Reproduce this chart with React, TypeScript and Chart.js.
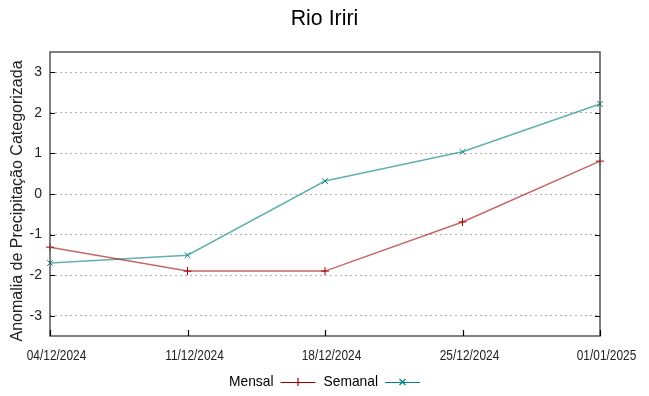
import React, { useEffect, useRef } from "react";
import { Chart, registerables } from "chart.js";

Chart.register(...registerables);

const categories = ["04/12/2024", "11/12/2024", "18/12/2024", "25/12/2024", "01/01/2025"];
const mensal = [-1.31, -1.9, -1.9, -0.69, 0.81];
const semanal = [-1.7, -1.51, 0.32, 1.04, 2.22];
const yTicks = [-3, -2, -1, 0, 1, 2, 3];
const titleText = "Rio Iriri";
const yTitleText = "Anomalia de Precipitação Categorizada";

const RED = "#a00000";
const RED_LINE = "rgba(160,0,0,0.6)";
const TEAL = "#008080";
const TEAL_LINE = "rgba(0,128,128,0.62)";
const SANS = "'Liberation Sans', Arial, sans-serif";

function narrowText(ctx: any, text: string, x: number, y: number, sx: number, align: string) {
  ctx.save();
  ctx.translate(x, y);
  ctx.scale(sx, 1);
  ctx.textAlign = align;
  ctx.fillText(text, 0, 0);
  ctx.restore();
}

const framePlugin = {
  id: "frameAndLegend",
  afterDraw(chart: any) {
    const ctx = chart.ctx;
    const { left, right, top, bottom } = chart.chartArea;
    ctx.save();
    // title
    ctx.fillStyle = "#000000";
    ctx.textBaseline = "middle";
    ctx.font = "22px " + SANS;
    narrowText(ctx, titleText, chart.width / 2, 19, 0.97, "center");
    // y title
    ctx.save();
    ctx.font = "16px " + SANS;
    ctx.fillStyle = "#222222";
    ctx.translate(18, 201);
    ctx.rotate(-Math.PI / 2);
    ctx.textAlign = "center";
    ctx.fillText(yTitleText, 0, 0);
    ctx.restore();
    // frame
    ctx.strokeStyle = "#555555";
    ctx.lineWidth = 1.5;
    ctx.strokeRect(left, top, right - left, bottom - top);
    // y ticks inward left/right
    ctx.strokeStyle = "#000000";
    ctx.lineWidth = 1.2;
    const ys = chart.scales.y;
    yTicks.forEach((v) => {
      const py = Math.round(ys.getPixelForValue(v)) + 0.5;
      ctx.beginPath();
      ctx.moveTo(left, py);
      ctx.lineTo(left + 5, py);
      ctx.moveTo(right, py);
      ctx.lineTo(right - 5, py);
      ctx.stroke();
    });
    // x ticks inward bottom + labels
    const xs = chart.scales.x;
    ctx.font = "14px " + SANS;
    ctx.fillStyle = "#222222";
    categories.forEach((lab, i) => {
      const px = Math.round(xs.getPixelForValue(i)) + 0.5;
      ctx.beginPath();
      ctx.moveTo(px, bottom);
      ctx.lineTo(px, bottom - 6);
      ctx.stroke();
      narrowText(ctx, lab, px + 6, 356, 0.85, "center");
    });
    // legend
    const ly = 382;
    ctx.font = "15px " + SANS;
    ctx.textBaseline = "middle";
    const items = [
      { label: "Mensal", color: RED, marker: "plus" },
      { label: "Semanal", color: TEAL, marker: "x" },
    ];
    const sx = 0.92;
    const lineLen = 35;
    const gapText = 7;
    const gapItem = 8;
    let total = 0;
    items.forEach((it, idx) => {
      total += ctx.measureText(it.label).width * sx + gapText + lineLen + (idx < items.length - 1 ? gapItem : 0);
    });
    let x = chart.width / 2 - total / 2;
    items.forEach((it) => {
      ctx.fillStyle = "#000000";
      narrowText(ctx, it.label, x, ly, sx, "left");
      x += ctx.measureText(it.label).width * sx + gapText;
      ctx.strokeStyle = it.color;
      ctx.lineWidth = 1.2;
      ctx.beginPath();
      ctx.moveTo(x, ly + 0.5);
      ctx.lineTo(x + lineLen, ly + 0.5);
      ctx.stroke();
      const cx = x + lineLen / 2;
      ctx.beginPath();
      if (it.marker === "plus") {
        ctx.moveTo(cx, ly - 4);
        ctx.lineTo(cx, ly + 4);
      } else {
        ctx.moveTo(cx - 3, ly - 3);
        ctx.lineTo(cx + 3, ly + 3);
        ctx.moveTo(cx - 3, ly + 3);
        ctx.lineTo(cx + 3, ly - 3);
      }
      ctx.stroke();
      x += lineLen + gapItem;
    });
    ctx.restore();
  },
};

export default function App() {
  const ref = useRef<HTMLCanvasElement | null>(null);
  useEffect(() => {
    if (!ref.current) return;
    Chart.defaults.font.family = SANS;
    const chart = new Chart(ref.current, {
      type: "line",
      data: {
        labels: categories,
        datasets: [
          {
            label: "Mensal",
            data: mensal,
            borderColor: RED_LINE,
            borderWidth: 1.5,
            pointStyle: "cross",
            pointRadius: 4,
            pointBorderColor: RED,
            pointBorderWidth: 1,
            pointBackgroundColor: RED,
            fill: false,
            tension: 0,
          },
          {
            label: "Semanal",
            data: semanal,
            borderColor: TEAL_LINE,
            borderWidth: 1.5,
            pointStyle: "crossRot",
            pointRadius: 4,
            pointBorderColor: TEAL,
            pointBorderWidth: 1,
            pointBackgroundColor: TEAL,
            fill: false,
            tension: 0,
          },
        ],
      },
      options: {
        responsive: false,
        animation: false,
        devicePixelRatio: 1,
        layout: { padding: { left: 0, right: 49, top: 52, bottom: 0 } },
        plugins: {
          legend: { display: false },
          tooltip: { enabled: false },
          title: { display: false },
        },
        scales: {
          x: {
            type: "category",
            offset: false,
            grid: { display: false, drawTicks: false },
            border: { display: false },
            ticks: { display: false, autoSkip: false },
            afterFit: (s: any) => {
              s.height = 60;
            },
          },
          y: {
            min: -3.5,
            max: 3.5,
            afterBuildTicks: (s: any) => {
              s.ticks = yTicks.map((v) => ({ value: v }));
            },
            grid: {
              color: "#b0b0b0",
              lineWidth: 1,
              drawTicks: false,
            },
            border: { display: false, dash: [2, 3] },
            ticks: {
              color: "#222222",
              font: { size: 14 },
              padding: 8,
              callback: (v: any) => String(v),
            },
            afterFit: (s: any) => {
              s.width = 50;
            },
          },
        },
      },
      plugins: [framePlugin],
    } as any);
    return () => chart.destroy();
  }, []);
  return (
    <canvas
      ref={ref}
      width={649}
      height={396}
      style={{ position: "absolute", left: 0, top: 0, width: 649, height: 396 }}
    />
  );
}
